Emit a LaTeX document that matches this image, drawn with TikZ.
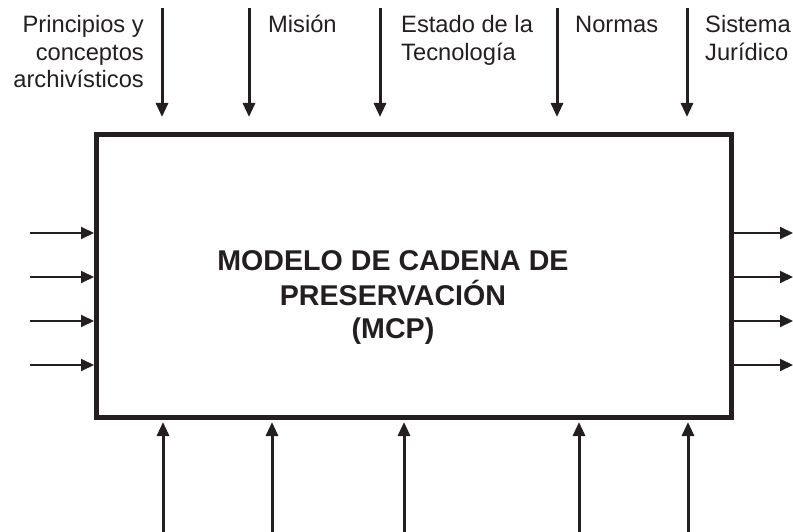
\documentclass[tikz,border=0pt]{standalone}
\usepackage{fontspec}
\setmainfont{Liberation Sans}
\usetikzlibrary{arrows.meta}
\definecolor{ink}{RGB}{35,31,32}
\begin{document}
\begin{tikzpicture}[x=1pt,y=-1pt,
  lbl/.style={inner sep=0pt, text=ink, font=\fontsize{23.7}{27.5}\selectfont},
  ttl/.style={inner sep=0pt, text=ink, font=\fontsize{28.6}{33.5}\selectfont\bfseries},
  vin/.style={draw=ink, line width=3pt, -{Triangle[length=14pt,width=12pt]}},
  hin/.style={draw=ink, line width=2pt, -{Triangle[length=13pt,width=12pt]}},
  mainbox/.style={draw=ink, line width=5pt, inner sep=0pt, minimum width=635pt, minimum height=283pt}]
\useasboundingbox (0,0) rectangle (793,532);
\node[mainbox] (box) at (414,276) {};
\node[ttl, anchor=base] (title) at (393,270) {\begin{tabular}[t]{@{}c@{}}MODELO DE CADENA DE\\PRESERVACIÓN\\(MCP)\end{tabular}};
% top labels
\node[lbl, anchor=base east] (l1) at (144,33) {\begin{tabular}[t]{@{}r@{}}Principios y\\conceptos\\archivísticos\end{tabular}};
\node[lbl, anchor=base west] (l2) at (268,33) {Misión};
\node[lbl, anchor=base west] (l3) at (401,33) {\begin{tabular}[t]{@{}l@{}}Estado de la\\Tecnología\end{tabular}};
\node[lbl, anchor=base west] (l4) at (575,33) {Normas};
\node[lbl, anchor=base west] (l5) at (705,33) {\begin{tabular}[t]{@{}l@{}}Sistema\\Jurídico\end{tabular}};
% top arrows
\foreach \i/\x in {1/162,2/249,3/380,4/557,5/687}{
  \coordinate (t\i) at (\x,8);
  \draw[vin, shorten >=15pt] (t\i) -- (t\i |- box.north);
}
% bottom arrows
\foreach \i/\x in {1/163,2/272,3/404,4/579,5/688}{
  \coordinate (b\i) at (\x,532);
  \draw[vin, shorten >=2pt] (b\i) -- (b\i |- box.south);
}
% left and right arrows
\foreach \i/\y in {1/233,2/277,3/321,4/365}{
  \coordinate (w\i) at (30,\y);
  \coordinate (e\i) at (793,\y);
  \draw[hin] (w\i) -- (w\i -| box.west);
  \draw[hin] (e\i -| box.east) -- (e\i);
}
\end{tikzpicture}
\end{document}
